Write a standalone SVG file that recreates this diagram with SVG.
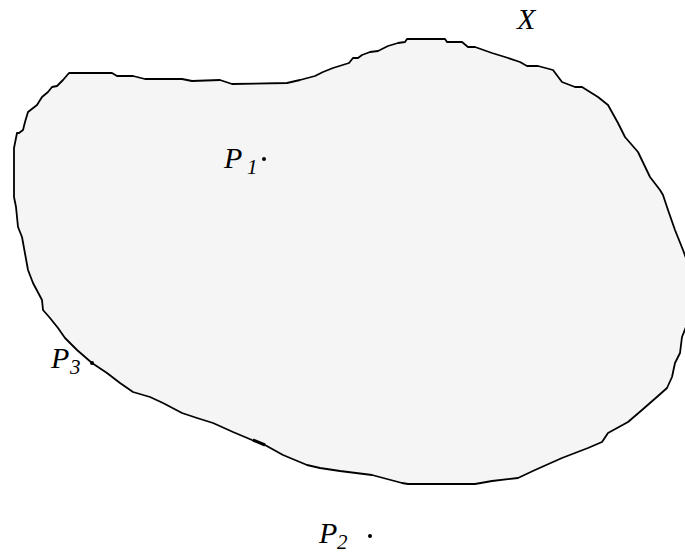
<svg xmlns="http://www.w3.org/2000/svg" width="685" height="553" viewBox="0 0 685 553">
<style>
.lbl{font-family:"Liberation Serif","Times New Roman",serif;font-style:italic;fill:#000}
.big{font-size:30px}
.sub{font-size:21px}
.region{fill:#f5f5f5;stroke:#000;stroke-width:1.8;stroke-linejoin:round}
</style>
<rect width="685" height="553" fill="#fff"/>
<g id="regionX">
<path class="region" d="M69,73 L112,73 L117,76 L133,76 L145,79 L182,79 L192,81 L220,80 L232,84 L287,83 L300,80 L315,76 L323,72 L333,68 L349,63 L353,58 L358,58 L362,55 L370,52 L378,51 L388,46 L398,43 L405,42 L407,39 L445,39 L447,42 L462,42 L468,47 L475,47 L492,53 L505,57 L520,62 L527,66 L538,66 L553,70 L562,82 L575,87 L582,87 L598,97 L608,105 L618,123 L625,137 L638,152 L650,177 L660,190 L663,195 L668,210 L675,230 L683,250 L686,258 L686,327 L682,337 L680,353 L675,363 L672,377 L667,388 L658,396 L642,410 L628,422 L608,433 L602,442 L588,448 L562,458 L535,470 L518,478 L492,481 L475,484 L408,484 L402,483 L372,475 L340,471 L320,468 L307,465 L283,455 L265,445 L252,440 L233,432 L213,423 L197,418 L182,413 L163,403 L150,397 L133,392 L120,383 L107,373 L92,363 L77,350 L65,338 L58,328 L50,318 L43,310 L42,300 L33,283 L28,270 L22,237 L18,227 L16,207 L14,197 L14,148 L17,133 L19,133 L23,130 L25,122 L28,112 L37,105 L42,97 L48,92 L52,87 L57,86 L63,80 Z"/>
<line x1="253" y1="440" x2="265" y2="445" stroke="#000" stroke-width="3"/>
<text class="lbl big" x="517" y="29">X</text>
</g>
<g id="P1">
<circle cx="264" cy="159" r="2" fill="#000"/>
<text class="lbl big" x="224" y="168">P</text>
<text class="lbl sub" x="247" y="174">1</text>
</g>
<g id="P2">
<circle cx="370" cy="536" r="2" fill="#000"/>
<text class="lbl big" x="319" y="543">P</text>
<text class="lbl sub" x="337" y="549">2</text>
</g>
<g id="P3">
<circle cx="92" cy="363" r="2" fill="#000"/>
<text class="lbl big" x="51" y="368">P</text>
<text class="lbl sub" x="70" y="374">3</text>
</g>
<g id="connectors"></g>
</svg>
